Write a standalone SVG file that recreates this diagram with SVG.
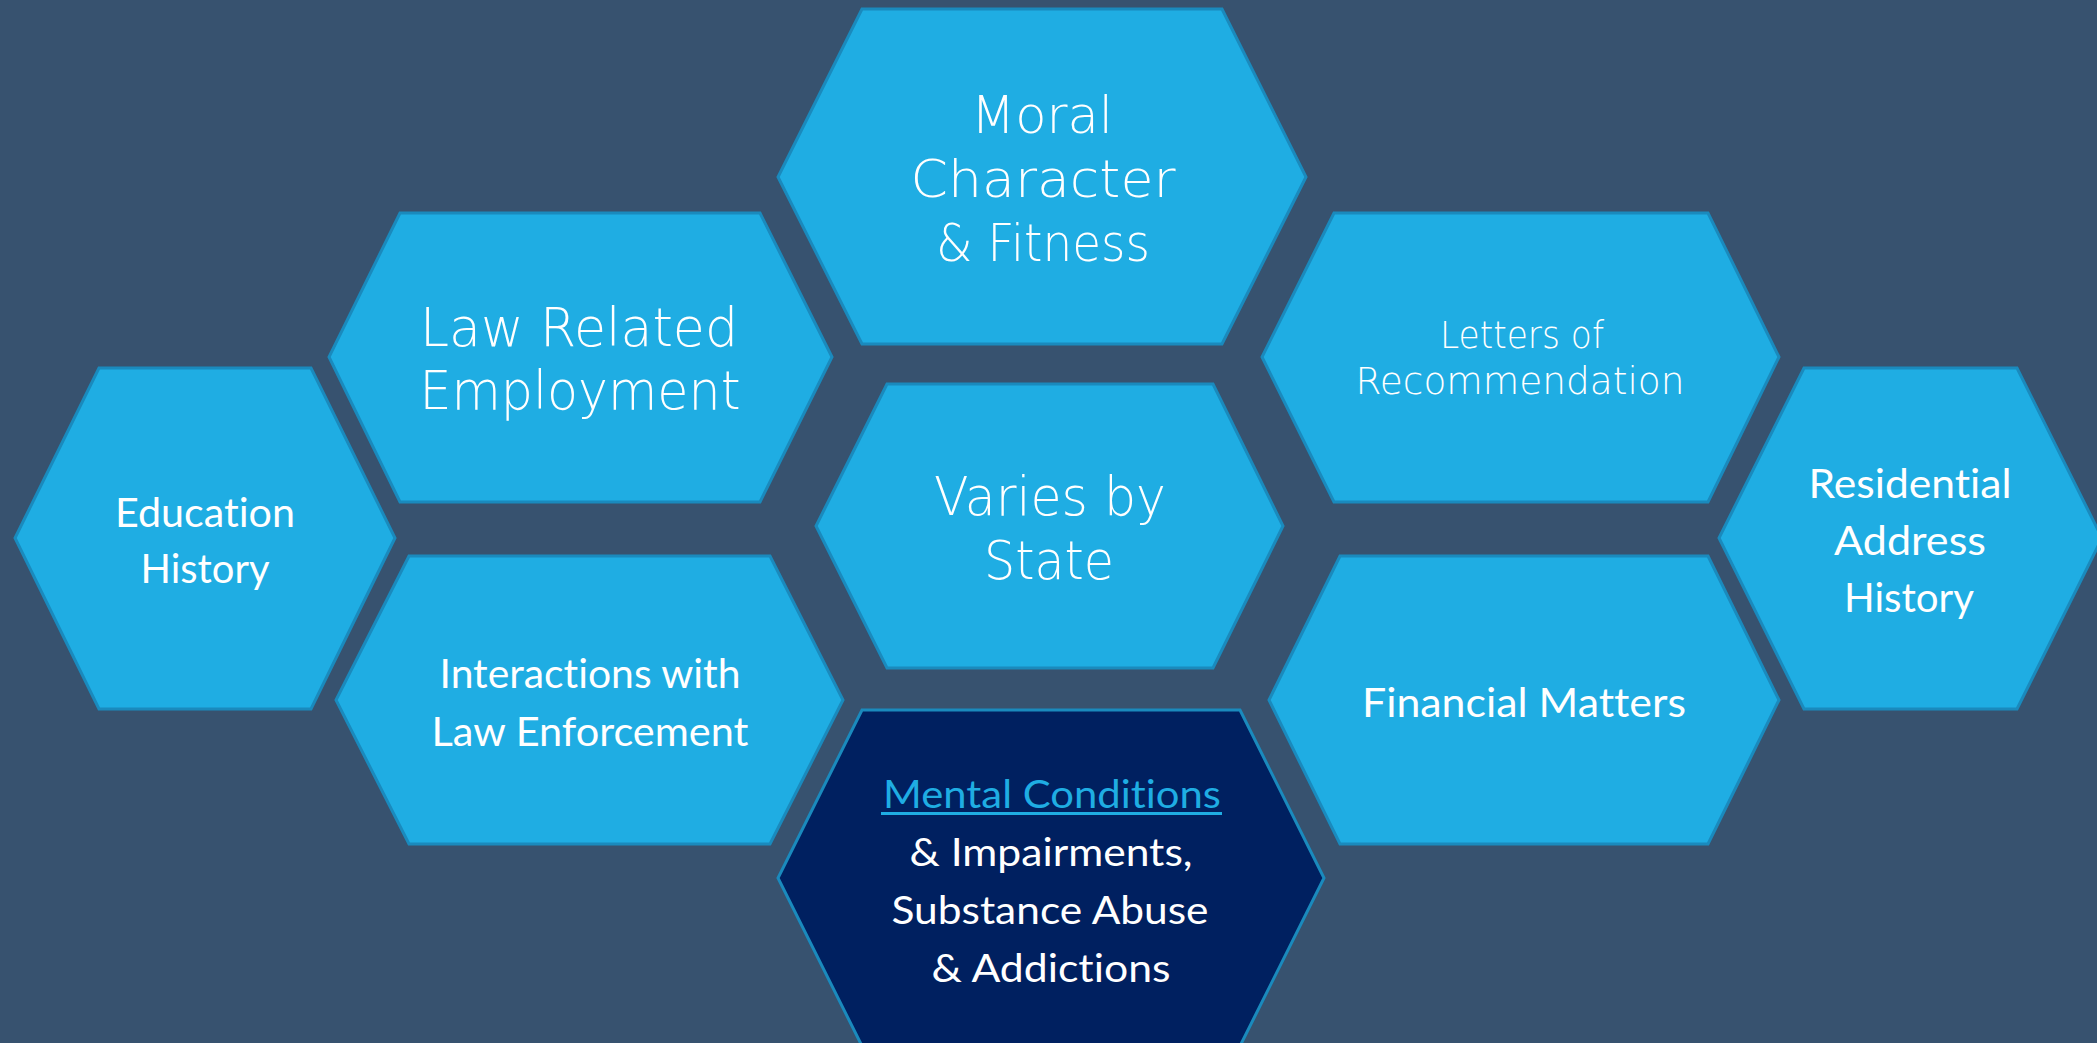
<svg xmlns="http://www.w3.org/2000/svg" width="2097" height="1043" viewBox="0 0 2097 1043">
<style>
.hex{fill:#1fade3;stroke:#1a8abd;stroke-width:3}
.hexd{fill:#002060;stroke:#1a8abd;stroke-width:3}
.cg{font-family:"DejaVu Sans","Liberation Sans",sans-serif;font-weight:200;fill:#ffffff;text-anchor:middle}
.fu{font-family:Lato,"Liberation Sans",sans-serif;font-weight:400;fill:#ffffff;text-anchor:middle;font-variant-ligatures:none}
.link{fill:#1fade3}
</style>
<rect x="0" y="0" width="2097" height="1043" fill="#37526f"/>
<g id="connectors"></g>
<g id="moral">
<polygon class="hex" points="862,9 1222,9 1306,177 1222,344 862,344 778,177"/>
<text class="cg" font-size="52" x="1042" y="133" textLength="142" lengthAdjust="spacingAndGlyphs">Moral</text>
<text class="cg" font-size="52" x="1043" y="197" textLength="265" lengthAdjust="spacingAndGlyphs">Character</text>
<text class="cg" font-size="52" x="1043" y="261" textLength="214" lengthAdjust="spacingAndGlyphs">&amp; Fitness</text>
</g>
<g id="law-related">
<polygon class="hex" points="400,213 760,213 832,357 760,502 400,502 329,357"/>
<text class="cg" font-size="53" x="579" y="346" textLength="318" lengthAdjust="spacingAndGlyphs">Law Related</text>
<text class="cg" font-size="53" x="580" y="409" textLength="321" lengthAdjust="spacingAndGlyphs">Employment</text>
</g>
<g id="education">
<polygon class="hex" points="99,368 311,368 395,538 311,709 99,709 15,538"/>
<text class="fu" font-size="41" x="205" y="527" textLength="180" lengthAdjust="spacingAndGlyphs">Education</text>
<text class="fu" font-size="41" x="205" y="583" textLength="129" lengthAdjust="spacingAndGlyphs">History</text>
</g>
<g id="interactions">
<polygon class="hex" points="409,556 770,556 843,700 770,844 409,844 336,700"/>
<text class="fu" font-size="41" x="590" y="688" textLength="301" lengthAdjust="spacingAndGlyphs">Interactions with</text>
<text class="fu" font-size="41" x="590" y="746" textLength="317" lengthAdjust="spacingAndGlyphs">Law Enforcement</text>
</g>
<g id="varies">
<polygon class="hex" points="887,384 1213,384 1283,526 1213,668 887,668 816,526"/>
<text class="cg" font-size="53" x="1050" y="515" textLength="232" lengthAdjust="spacingAndGlyphs">Varies by</text>
<text class="cg" font-size="53" x="1049" y="579" textLength="130" lengthAdjust="spacingAndGlyphs">State</text>
</g>
<g id="mental">
<polygon class="hexd" points="862,710 1240,710 1324,878 1240,1046 862,1046 778,878"/>
<text class="fu link" font-size="39" x="1052" y="808" textLength="338" lengthAdjust="spacingAndGlyphs">Mental Conditions</text>
<rect x="881" y="812" width="341" height="3" fill="#1fade3"/>
<text class="fu" font-size="39" x="1051" y="866" textLength="283" lengthAdjust="spacingAndGlyphs">&amp; Impairments,</text>
<text class="fu" font-size="39" x="1050" y="924" textLength="317" lengthAdjust="spacingAndGlyphs">Substance Abuse</text>
<text class="fu" font-size="39" x="1051" y="982" textLength="239" lengthAdjust="spacingAndGlyphs">&amp; Addictions</text>
</g>
<g id="letters">
<polygon class="hex" points="1334,213 1708,213 1779,357 1708,502 1334,502 1262,357"/>
<text class="cg" font-size="37" x="1522" y="348" textLength="164" lengthAdjust="spacingAndGlyphs">Letters of</text>
<text class="cg" font-size="37" x="1520" y="394" textLength="329" lengthAdjust="spacingAndGlyphs">Recommendation</text>
</g>
<g id="residential">
<polygon class="hex" points="1804,368 2017,368 2102,538 2017,709 1804,709 1719,538"/>
<text class="fu" font-size="41" x="1910" y="498" textLength="203" lengthAdjust="spacingAndGlyphs">Residential</text>
<text class="fu" font-size="41" x="1910" y="555" textLength="152" lengthAdjust="spacingAndGlyphs">Address</text>
<text class="fu" font-size="41" x="1909" y="612" textLength="130" lengthAdjust="spacingAndGlyphs">History</text>
</g>
<g id="financial">
<polygon class="hex" points="1340,556 1708,556 1779,700 1708,844 1340,844 1269,700"/>
<text class="fu" font-size="41" x="1524" y="717" textLength="324" lengthAdjust="spacingAndGlyphs">Financial Matters</text>
</g>
</svg>
